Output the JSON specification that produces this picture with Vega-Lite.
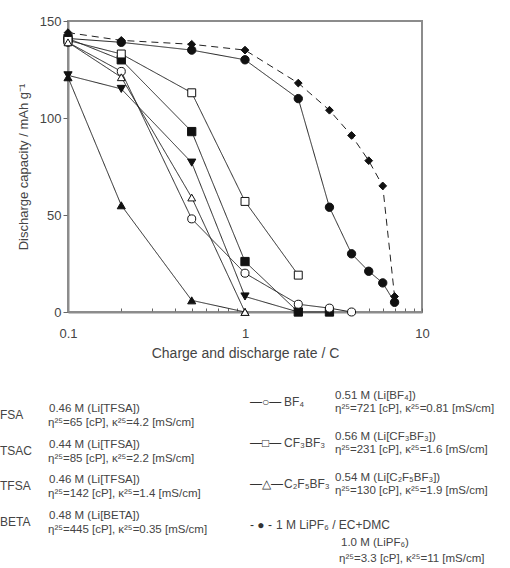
{
  "$schema": "https://vega.github.io/schema/vega-lite/v6.json",
  "autosize": "none",
  "padding": {"left": 68, "top": 21, "right": 88, "bottom": 256},
  "width": 354,
  "height": 291,
  "background": "white",
  "config": {
    "font": "Liberation Sans",
    "view": {"stroke": "#8c8c8c", "strokeWidth": 2},
    "axis": {"domainColor": "#8c8c8c", "domainWidth": 2, "tickColor": "#666", "labelColor": "#444", "titleColor": "#444", "labelFont": "Liberation Sans", "titleFont": "Liberation Sans", "titleFontWeight": "normal", "grid": false}
  },
  "datasets": {
    "curves": [
      {"series": "FSA", "rate": 0.1, "cap": 141}, {"series": "FSA", "rate": 0.2, "cap": 139}, {"series": "FSA", "rate": 0.5, "cap": 135}, {"series": "FSA", "rate": 1, "cap": 130}, {"series": "FSA", "rate": 2, "cap": 110}, {"series": "FSA", "rate": 3, "cap": 54}, {"series": "FSA", "rate": 4, "cap": 30}, {"series": "FSA", "rate": 5, "cap": 21}, {"series": "FSA", "rate": 6, "cap": 15}, {"series": "FSA", "rate": 7, "cap": 5},
      {"series": "TSAC", "rate": 0.1, "cap": 141}, {"series": "TSAC", "rate": 0.2, "cap": 130}, {"series": "TSAC", "rate": 0.5, "cap": 93}, {"series": "TSAC", "rate": 1, "cap": 26}, {"series": "TSAC", "rate": 2, "cap": 0}, {"series": "TSAC", "rate": 3, "cap": 0},
      {"series": "TFSA", "rate": 0.1, "cap": 122}, {"series": "TFSA", "rate": 0.2, "cap": 115}, {"series": "TFSA", "rate": 0.5, "cap": 77}, {"series": "TFSA", "rate": 1, "cap": 8}, {"series": "TFSA", "rate": 2, "cap": 0},
      {"series": "BETA", "rate": 0.1, "cap": 121}, {"series": "BETA", "rate": 0.2, "cap": 55}, {"series": "BETA", "rate": 0.5, "cap": 6}, {"series": "BETA", "rate": 1, "cap": 0},
      {"series": "BF4", "rate": 0.1, "cap": 139}, {"series": "BF4", "rate": 0.2, "cap": 124}, {"series": "BF4", "rate": 0.5, "cap": 48}, {"series": "BF4", "rate": 1, "cap": 20}, {"series": "BF4", "rate": 2, "cap": 4}, {"series": "BF4", "rate": 3, "cap": 2}, {"series": "BF4", "rate": 4, "cap": 0},
      {"series": "CF3BF3", "rate": 0.1, "cap": 140}, {"series": "CF3BF3", "rate": 0.2, "cap": 133}, {"series": "CF3BF3", "rate": 0.5, "cap": 113}, {"series": "CF3BF3", "rate": 1, "cap": 57}, {"series": "CF3BF3", "rate": 2, "cap": 19},
      {"series": "C2F5BF3", "rate": 0.1, "cap": 139}, {"series": "C2F5BF3", "rate": 0.2, "cap": 121}, {"series": "C2F5BF3", "rate": 0.5, "cap": 59}, {"series": "C2F5BF3", "rate": 1, "cap": 0},
      {"series": "LiPF6", "rate": 0.1, "cap": 144}, {"series": "LiPF6", "rate": 0.2, "cap": 140}, {"series": "LiPF6", "rate": 0.5, "cap": 138}, {"series": "LiPF6", "rate": 1, "cap": 135}, {"series": "LiPF6", "rate": 2, "cap": 118}, {"series": "LiPF6", "rate": 3, "cap": 104}, {"series": "LiPF6", "rate": 4, "cap": 91}, {"series": "LiPF6", "rate": 5, "cap": 78}, {"series": "LiPF6", "rate": 6, "cap": 65}, {"series": "LiPF6", "rate": 7, "cap": 8}
    ],
    "legendLeft": [
      {"col": 0, "row": 0, "name": "FSA", "l1": "0.46 M (Li[TFSA])", "l2": "η²⁵=65 [cP], κ²⁵=4.2 [mS/cm]"},
      {"col": 0, "row": 1, "name": "TSAC", "l1": "0.44 M (Li[TFSA])", "l2": "η²⁵=85 [cP], κ²⁵=2.2 [mS/cm]"},
      {"col": 0, "row": 2, "name": "TFSA", "l1": "0.46 M (Li[TFSA])", "l2": "η²⁵=142 [cP], κ²⁵=1.4 [mS/cm]"},
      {"col": 0, "row": 3, "name": "BETA", "l1": "0.48 M (Li[BETA])", "l2": "η²⁵=445 [cP], κ²⁵=0.35 [mS/cm]"}
    ],
    "legendRight": [
      {"col": 1, "row": 0, "sym": "—○—", "name": "BF₄", "l1": "0.51 M (Li[BF₄])", "l2": "η²⁵=721 [cP], κ²⁵=0.81 [mS/cm]"},
      {"col": 1, "row": 1, "sym": "—□—", "name": "CF₃BF₃", "l1": "0.56 M (Li[CF₃BF₃])", "l2": "η²⁵=231 [cP], κ²⁵=1.6 [mS/cm]"},
      {"col": 1, "row": 2, "sym": "—△—", "name": "C₂F₅BF₃", "l1": "0.54 M (Li[C₂F₅BF₃])", "l2": "η²⁵=130 [cP], κ²⁵=1.9 [mS/cm]"},
      {"col": 1, "row": 3, "sym": "- ● -", "name": "1 M LiPF₆ / EC+DMC", "l1": "1.0 M (LiPF₆)", "l2": "η²⁵=3.3 [cP], κ²⁵=11 [mS/cm]"}
    ]
  },
  "layer": [
    {
      "data": {"name": "curves"},
      "encoding": {
        "x": {"field": "rate", "type": "quantitative", "scale": {"type": "log", "domain": [0.1, 10], "nice": false},
          "axis": {"title": "Charge and discharge rate / C", "values": [0.1, 0.2, 0.3, 0.4, 0.5, 0.6, 0.7, 0.8, 0.9, 1, 2, 3, 4, 5, 6, 7, 8, 9, 10],
            "labelExpr": "datum.value == 0.1 ? '0.1' : datum.value == 1 ? '1' : datum.value == 10 ? '10' : ''",
            "tickSize": -4, "labelPadding": 19, "labelFontSize": 13, "titleFontSize": 14, "titlePadding": 6, "labelFlush": false}},
        "y": {"field": "cap", "type": "quantitative", "scale": {"domain": [0, 150], "nice": false},
          "axis": {"title": "Discharge capacity / mAh g⁻¹", "values": [0, 50, 100, 150], "tickSize": 5, "labelPadding": 2, "labelFontSize": 13, "titleFontSize": 13, "titlePadding": 9}}
      },
      "layer": [
        {
          "mark": {"type": "line", "color": "#222", "strokeWidth": 1},
          "encoding": {
            "detail": {"field": "series"},
            "strokeDash": {"field": "series", "type": "nominal", "legend": null,
              "scale": {"domain": ["FSA", "TSAC", "TFSA", "BETA", "BF4", "CF3BF3", "C2F5BF3", "LiPF6"], "range": [[1, 0], [1, 0], [1, 0], [1, 0], [1, 0], [1, 0], [1, 0], [7, 5]]}}
          }
        },
        {
          "mark": {"type": "point", "filled": true, "stroke": "#111", "strokeWidth": 1, "opacity": 1},
          "encoding": {
            "shape": {"field": "series", "type": "nominal", "legend": null,
              "scale": {"domain": ["FSA", "TSAC", "TFSA", "BETA", "BF4", "CF3BF3", "C2F5BF3", "LiPF6"], "range": ["circle", "square", "triangle-down", "triangle-up", "circle", "square", "triangle-up", "diamond"]}},
            "fill": {"field": "series", "type": "nominal", "legend": null,
              "scale": {"domain": ["FSA", "TSAC", "TFSA", "BETA", "BF4", "CF3BF3", "C2F5BF3", "LiPF6"], "range": ["#111", "#111", "#111", "#111", "white", "white", "white", "#111"]}},
            "size": {"field": "series", "type": "nominal", "legend": null,
              "scale": {"domain": ["FSA", "TSAC", "TFSA", "BETA", "BF4", "CF3BF3", "C2F5BF3", "LiPF6"], "range": [70, 60, 40, 40, 50, 55, 40, 35]}}
          }
        }
      ]
    },
    {
      "data": {"name": "legendLeft"},
      "encoding": {
        "x": {"field": "col", "type": "quantitative", "scale": {"domain": [0, 1], "range": [-68, 182]}, "axis": null},
        "y": {"field": "row", "type": "quantitative", "scale": {"domain": [0, 3], "range": [394, 501]}, "axis": null}
      },
      "layer": [
        {"mark": {"type": "text", "align": "left", "baseline": "middle", "fontSize": 12, "color": "#444"}, "encoding": {"text": {"field": "name"}}},
        {"mark": {"type": "text", "align": "left", "baseline": "middle", "fontSize": 11.5, "color": "#444", "dx": 49, "dy": -6}, "encoding": {"text": {"field": "l1"}}},
        {"mark": {"type": "text", "align": "left", "baseline": "middle", "fontSize": 11.5, "color": "#444", "dx": 48, "dy": 8}, "encoding": {"text": {"field": "l2"}}}
      ]
    },
    {
      "data": {"name": "legendRight"},
      "encoding": {
        "x": {"field": "col", "type": "quantitative", "scale": {"domain": [0, 1], "range": [-68, 182]}, "axis": null},
        "y": {"field": "row", "type": "quantitative", "scale": {"domain": [0, 3], "range": [381, 504]}, "axis": null}
      },
      "layer": [
        {"mark": {"type": "text", "align": "left", "baseline": "middle", "fontSize": 12, "color": "#333"}, "encoding": {"text": {"field": "sym"}}},
        {"transform": [{"filter": "datum.row < 3"}], "mark": {"type": "text", "align": "left", "baseline": "middle", "fontSize": 12, "color": "#444", "dx": 34}, "encoding": {"text": {"field": "name"}}},
        {"transform": [{"filter": "datum.row < 3"}], "mark": {"type": "text", "align": "left", "baseline": "middle", "fontSize": 11.5, "color": "#444", "dx": 85, "dy": -6}, "encoding": {"text": {"field": "l1"}}},
        {"transform": [{"filter": "datum.row < 3"}], "mark": {"type": "text", "align": "left", "baseline": "middle", "fontSize": 11.5, "color": "#444", "dx": 85, "dy": 7}, "encoding": {"text": {"field": "l2"}}},
        {"transform": [{"filter": "datum.row == 3"}], "mark": {"type": "text", "align": "left", "baseline": "middle", "fontSize": 12, "color": "#444", "dx": 26}, "encoding": {"text": {"field": "name"}}},
        {"transform": [{"filter": "datum.row == 3"}], "mark": {"type": "text", "align": "left", "baseline": "middle", "fontSize": 11.5, "color": "#444", "dx": 91, "dy": 18}, "encoding": {"text": {"field": "l1"}}},
        {"transform": [{"filter": "datum.row == 3"}], "mark": {"type": "text", "align": "left", "baseline": "middle", "fontSize": 11.5, "color": "#444", "dx": 89, "dy": 34}, "encoding": {"text": {"field": "l2"}}}
      ]
    }
  ],
  "resolve": {"scale": {"x": "independent", "y": "independent", "shape": "independent", "fill": "independent", "size": "independent", "strokeDash": "independent"}}
}
